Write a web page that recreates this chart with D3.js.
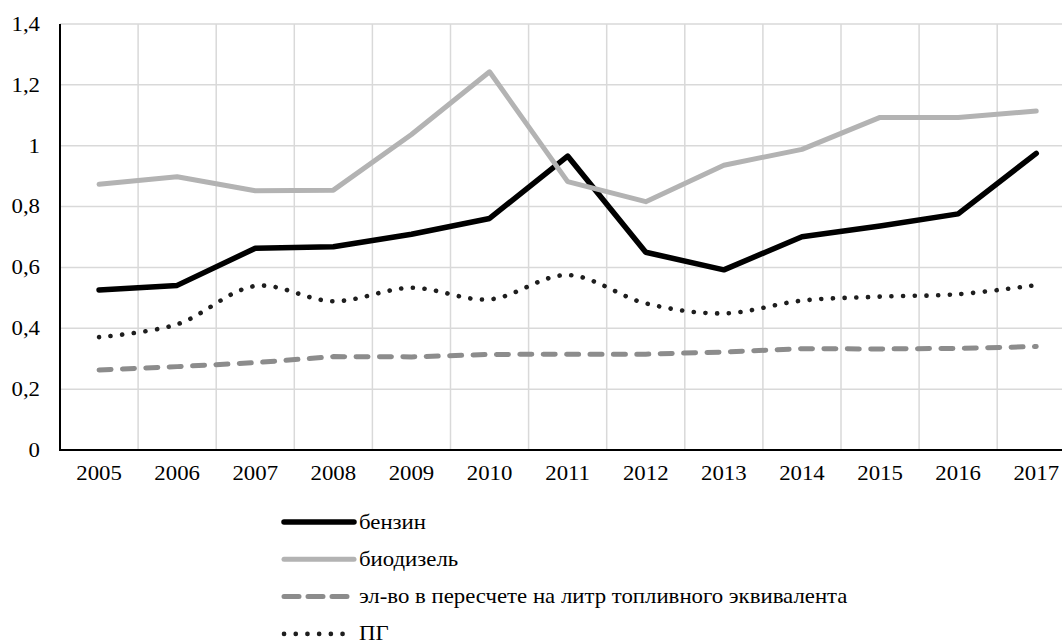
<!DOCTYPE html>
<html>
<head>
<meta charset="utf-8">
<script src="https://cdn.jsdelivr.net/npm/d3@7"></script>
<style>
  html, body { margin: 0; padding: 0; background: #fff; }
  svg { display: block; }
  text { font-family: "Liberation Serif", "Times New Roman", serif; fill: #000; }
</style>
</head>
<body>
<svg id="chart" width="1062" height="644"></svg>
<script>
// Years on the category axis
const years = ["2005","2006","2007","2008","2009","2010","2011","2012","2013","2014","2015","2016","2017"];

// Series values
const benzin    = [0.526, 0.541, 0.663, 0.668, 0.709, 0.761, 0.966, 0.650, 0.592, 0.701, 0.736, 0.776, 0.975];
const biodiesel = [0.873, 0.898, 0.852, 0.854, 1.037, 1.243, 0.882, 0.816, 0.936, 0.988, 1.093, 1.093, 1.114];
const electric  = [0.263, 0.274, 0.287, 0.307, 0.306, 0.314, 0.315, 0.315, 0.322, 0.333, 0.332, 0.334, 0.340];
const gas       = [0.371, 0.413, 0.539, 0.489, 0.533, 0.495, 0.575, 0.482, 0.449, 0.491, 0.504, 0.512, 0.542];

// Y tick values and labels
const yTicks = [0, 0.2, 0.4, 0.6, 0.8, 1.0, 1.2, 1.4];
const yTickLabels = ["0", "0,2", "0,4", "0,6", "0,8", "1", "1,2", "1,4"];

// Legend names
const seriesNames = ["бензин", "биодизель", "эл-во в пересчете на литр топливного эквивалента", "ПГ"];

const svg = d3.select("#chart");

const plotLeft = 60, plotTop = 24, plotBottom = 450, bandStep = 78.1;
const fontSize = 20, textStretch = 1.14;
const x = d3.scaleBand().domain(years).range([plotLeft, plotLeft + bandStep * years.length]).padding(0);
const y = d3.scaleLinear().domain([0, 1.4]).range([plotBottom, plotTop]);
const cx = d => x(d) + x.bandwidth() / 2;

// Widen glyphs horizontally around each label's anchor point
function stretchText(sel) {
  sel.each(function () {
    const t = d3.select(this);
    const ax = +(t.attr("x") || 0);
    t.attr("transform", `translate(${ax},0) scale(${textStretch},1) translate(${-ax},0)`);
  });
}

const styles = [
  { values: benzin,    color: "#000000", width: 5.5, dash: null,       curve: d3.curveLinear },
  { values: biodiesel, color: "#b3b3b3", width: 5,   dash: null,       curve: d3.curveLinear },
  { values: electric,  color: "#8c8c8c", width: 5,   dash: "12 11.4",  curve: d3.curveLinear },
  { values: gas,       color: "#1e1e1e", width: 4.6, dash: "0.1 11.6", curve: d3.curveCatmullRom.alpha(0.5) }
];

// Gridlines
const grid = svg.append("g");
grid.selectAll("line.h").data(yTicks.filter(v => v > 0)).join("line")
  .attr("x1", plotLeft).attr("x2", 1062)
  .attr("y1", d => y(d)).attr("y2", d => y(d))
  .attr("stroke", "#d9d9d9").attr("stroke-width", 1.5);
grid.selectAll("line.v").data(years.slice(1)).join("line")
  .attr("x1", d => x(d)).attr("x2", d => x(d))
  .attr("y1", plotTop).attr("y2", plotBottom)
  .attr("stroke", "#d9d9d9").attr("stroke-width", 1.5);

// Axes
const yAxis = d3.axisLeft(y).tickValues(yTicks)
  .tickFormat((d, i) => yTickLabels[i]).tickSize(0).tickPadding(20);
svg.append("g").attr("transform", `translate(${plotLeft},0)`).call(yAxis)
  .call(g => g.select(".domain").remove())
  .call(g => g.selectAll("text").attr("font-size", fontSize).attr("font-family", "Liberation Serif").call(stretchText));

const xAxis = d3.axisBottom(x).tickSize(0).tickPadding(16);
svg.append("g").attr("transform", `translate(0,${plotBottom})`).call(xAxis)
  .call(g => g.select(".domain").remove())
  .call(g => g.selectAll("text").attr("font-size", fontSize).attr("font-family", "Liberation Serif").call(stretchText));

svg.append("line").attr("x1", plotLeft).attr("x2", plotLeft).attr("y1", plotTop).attr("y2", plotBottom)
  .attr("stroke", "#000").attr("stroke-width", 2);
svg.append("line").attr("x1", plotLeft - 1).attr("x2", 1062).attr("y1", plotBottom).attr("y2", plotBottom)
  .attr("stroke", "#000").attr("stroke-width", 2.2);

// Series lines
styles.forEach(s => {
  const line = d3.line().x((d, i) => cx(years[i])).y(d => y(d)).curve(s.curve);
  svg.append("path").datum(s.values)
    .attr("d", line)
    .attr("fill", "none")
    .attr("stroke", s.color)
    .attr("stroke-width", s.width)
    .attr("stroke-linecap", "round")
    .attr("stroke-linejoin", "round")
    .attr("stroke-dasharray", s.dash);
});

// Legend
const legend = svg.append("g");
const legendX1 = 284, legendX2 = 354, legendTextX = 359, legendY0 = 522, legendStep = 37.3;
styles.forEach((s, i) => {
  const ly = legendY0 + i * legendStep;
  legend.append("line")
    .attr("x1", legendX1).attr("x2", i === 3 ? 348 : legendX2)
    .attr("y1", ly).attr("y2", ly)
    .attr("stroke", s.color)
    .attr("stroke-width", s.width)
    .attr("stroke-linecap", "round")
    .attr("stroke-dasharray", i === 2 ? "15 9" : s.dash);
  legend.append("text")
    .attr("x", legendTextX).attr("y", ly)
    .attr("dy", "0.33em")
    .attr("font-size", fontSize)
    .text(seriesNames[i])
    .call(stretchText);
});
</script>
</body>
</html>
